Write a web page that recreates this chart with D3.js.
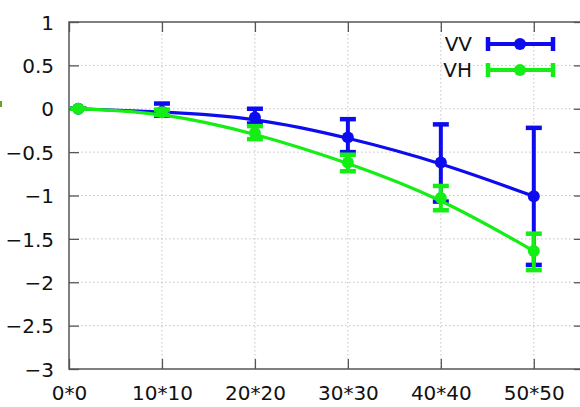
<!DOCTYPE html>
<html><head><meta charset="utf-8">
<script src="https://cdn.jsdelivr.net/npm/d3@7/dist/d3.min.js"></script>
<style>body{margin:0;background:#fff}svg{display:block}text{font-family:"DejaVu Sans",sans-serif}</style>
</head><body><svg id="c" width="580" height="407"></svg>
<script>
const xValues = [1, 10, 20, 30, 40, 50];
const xTickValues = [0, 10, 20, 30, 40, 50];
const xTickLabels = ["0*0", "10*10", "20*20", "30*30", "40*40", "50*50"];
const yTickValues = [1, 0.5, 0, -0.5, -1, -1.5, -2, -2.5, -3];
const seriesNames = ["VV", "VH"];
const vvMean = [0, -0.035, -0.10, -0.33, -0.62, -1.01];
const vvLow  = [0, -0.08, -0.17, -0.50, -1.07, -1.80];
const vvHigh = [0, 0.06, 0.00, -0.12, -0.18, -0.22];
const vhMean = [0, -0.04, -0.28, -0.62, -1.03, -1.64];
const vhLow  = [0, -0.07, -0.35, -0.72, -1.17, -1.86];
const vhHigh = [0, -0.01, -0.20, -0.53, -0.89, -1.44];

const colors = {VV: "#0c0cee", VH: "#14ee14"};
const svg = d3.select("#c");
const L = 69, T = 22, B = 369, R = 584;
const x = d3.scaleLinear().domain([0, 55.4]).range([L, R]);
const y = d3.scaleLinear().domain([-3, 1]).range([B, T]);

// stray mark at left edge
svg.append("rect").attr("x", 0).attr("y", 101).attr("width", 2).attr("height", 6).attr("fill", "#6aa22a");

// grid
const g = svg.append("g");
g.selectAll(".gx").data(xTickValues.slice(1)).join("line")
  .attr("x1", d => x(d)).attr("x2", d => x(d)).attr("y1", T).attr("y2", B)
  .attr("stroke", "#c4c4c4").attr("stroke-width", 1).attr("stroke-dasharray", "1.5,2.5");
g.selectAll(".gy").data(yTickValues.slice(1, -1)).join("line")
  .attr("x1", L).attr("x2", R).attr("y1", d => y(d)).attr("y2", d => y(d))
  .attr("stroke", "#c4c4c4").attr("stroke-width", 1).attr("stroke-dasharray", "1.5,2.5");

// axes via d3 axis with inward ticks
const axL = svg.append("g").attr("transform", `translate(${L},0)`)
  .call(d3.axisLeft(y).tickValues(yTickValues).tickSize(-10).tickPadding(15).tickFormat(d3.format("")));
const axR = svg.append("g").attr("transform", `translate(${R},0)`)
  .call(d3.axisRight(y).tickValues(yTickValues).tickSize(-10).tickFormat(""));
const axB = svg.append("g").attr("transform", `translate(0,${B})`)
  .call(d3.axisBottom(x).tickValues(xTickValues).tickSize(-10).tickPadding(17).tickFormat((d, i) => xTickLabels[i]));
const axT = svg.append("g").attr("transform", `translate(0,${T})`)
  .call(d3.axisTop(x).tickValues(xTickValues).tickSize(-10).tickFormat(""));
[axL, axR, axB, axT].forEach(a => {
  a.select(".domain").remove();
  a.selectAll(".tick line").attr("stroke", "#555").attr("stroke-width", 1.3);
  a.selectAll("text").attr("font-size", 20).attr("fill", "#111").attr("font-family", "DejaVu Sans");
});
axL.selectAll("text").attr("dy", "0.36em");
axB.selectAll("text").attr("dy", "0.71em");
// frame
svg.append("rect").attr("x", L).attr("y", T).attr("width", R - L).attr("height", B - T)
  .attr("fill", "none").attr("stroke", "#555").attr("stroke-width", 1.5);

const series = [
  {name: "VV", mean: vvMean, low: vvLow, high: vvHigh},
  {name: "VH", mean: vhMean, low: vhLow, high: vhHigh}
];
const line = d3.line().x(d => x(d[0])).y(d => y(d[1])).curve(d3.curveBasis);
const capW = 8;
series.forEach((s, si) => {
  const c = colors[s.name];
  const sg = svg.append("g");
  const pts = xValues.map((v, i) => [v, s.mean[i]]);
  sg.append("path").attr("d", line(pts)).attr("fill", "none").attr("stroke", c).attr("stroke-width", 3.2);
  xValues.forEach((v, i) => {
    const xx = x(v);
    sg.append("line").attr("x1", xx).attr("x2", xx).attr("y1", y(s.low[i])).attr("y2", y(s.high[i]))
      .attr("stroke", c).attr("stroke-width", 4);
    [s.low[i], s.high[i]].forEach(e => {
      sg.append("line").attr("x1", xx - capW).attr("x2", xx + capW).attr("y1", y(e)).attr("y2", y(e))
        .attr("stroke", c).attr("stroke-width", 4.5);
    });
    sg.append("circle").attr("cx", xx).attr("cy", y(s.mean[i])).attr("r", 6).attr("fill", c);
  });
  // legend
  const ly = 44 + si * 26;
  const lg = svg.append("g");
  lg.append("text").attr("x", 472).attr("y", ly).attr("dy", "0.36em").attr("text-anchor", "end")
    .attr("font-size", 20).attr("fill", "#111").text(s.name);
  lg.append("line").attr("x1", 488).attr("x2", 553).attr("y1", ly).attr("y2", ly).attr("stroke", c).attr("stroke-width", 4);
  [488, 553].forEach(px => lg.append("line").attr("x1", px).attr("x2", px).attr("y1", ly - 7).attr("y2", ly + 7)
    .attr("stroke", c).attr("stroke-width", 4.5));
  lg.append("circle").attr("cx", 520).attr("cy", ly).attr("r", 6).attr("fill", c);
});
</script></body></html>
